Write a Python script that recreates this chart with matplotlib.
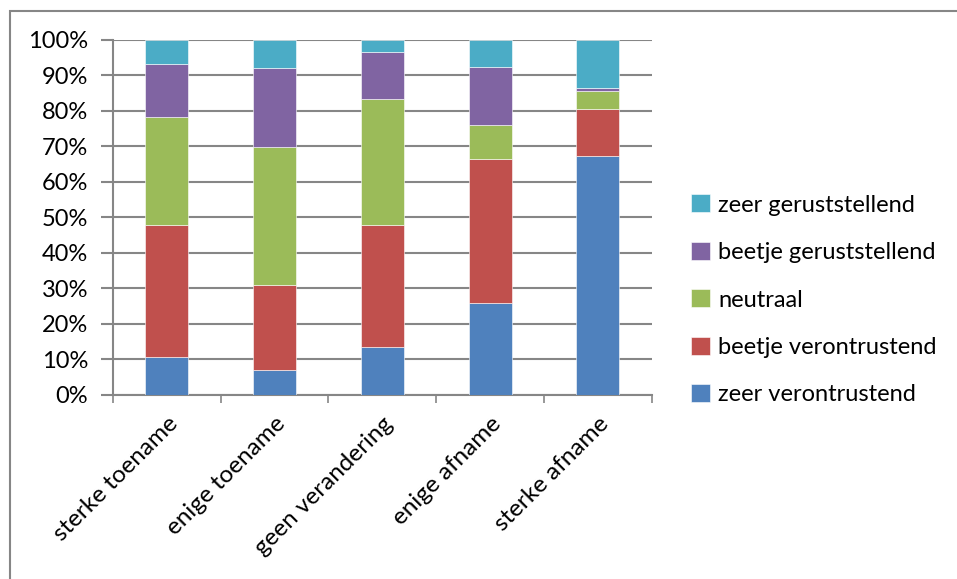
import numpy as np
import matplotlib.pyplot as plt
from matplotlib.patches import Rectangle
from matplotlib.ticker import PercentFormatter

plt.rcParams['font.family'] = ['Lato', 'DejaVu Sans']

# Categorieën en aandelen per antwoord (in %)
categorieen = ['sterke toename', 'enige toename', 'geen verandering', 'enige afname', 'sterke afname']
zeer_verontrustend = [10.8, 6.9, 13.6, 26.0, 67.4]
beetje_verontrustend = [37.1, 24.0, 34.4, 40.4, 13.2]
neutraal = [30.3, 38.9, 35.4, 9.6, 4.9]
beetje_geruststellend = [15.1, 22.4, 13.3, 16.5, 1.1]
zeer_geruststellend = [6.7, 7.8, 3.3, 7.5, 13.4]

reeksen = [
    ('zeer verontrustend', zeer_verontrustend, '#4F81BD'),
    ('beetje verontrustend', beetje_verontrustend, '#C0504D'),
    ('neutraal', neutraal, '#9BBB59'),
    ('beetje geruststellend', beetje_geruststellend, '#8064A2'),
    ('zeer geruststellend', zeer_geruststellend, '#4BACC6'),
]

fig = plt.figure(figsize=(9.57, 5.79), dpi=100)
ax = fig.add_axes([0.118, 0.318, 0.563, 0.613])

x = np.arange(len(categorieen))
onder = np.zeros(len(categorieen))
for naam, waarden, kleur in reeksen:
    waarden = np.array(waarden)
    ax.bar(x, waarden, bottom=onder, width=0.4, color=kleur, label=naam,
           edgecolor='white', linewidth=0.4, zorder=3)
    onder += waarden

grijs = '#868686'
ax.set_xlim(-0.5, len(categorieen) - 0.5)
ax.set_ylim(0, 100)
ax.set_yticks(np.arange(0, 101, 10))
ax.yaxis.set_major_formatter(PercentFormatter(decimals=0))
ax.grid(axis='y', color=grijs, linewidth=1.5, zorder=0)

ax.set_xticks(np.arange(len(categorieen) + 1) - 0.5, minor=False)
ax.set_xticklabels([])
ax.set_xticks(x, minor=True)
ax.set_xticklabels(categorieen, minor=True, rotation=45, ha='right',
                   rotation_mode='anchor', fontsize=17.5)
ax.tick_params(axis='x', which='minor', length=0, pad=13)
ax.tick_params(axis='x', which='major', length=6, color=grijs, width=1.2)
ax.tick_params(axis='y', length=9, color=grijs, width=1.5, labelsize=17, pad=9)

for kant in ['top', 'right']:
    ax.spines[kant].set_visible(False)
for kant in ['left', 'bottom']:
    ax.spines[kant].set_color(grijs)
    ax.spines[kant].set_linewidth(1.5)

handles, labels = ax.get_legend_handles_labels()
fig.legend(handles[::-1], labels[::-1], loc='center left',
           bbox_to_anchor=(0.7, 0.482), frameon=False, fontsize=17,
           handlelength=0.8, handleheight=0.8, handletextpad=0.35,
           labelspacing=1.11)

# kader rond de grafiek
fig.patches.append(Rectangle((10 / 957, -0.05), 1.2, 0.05 + (579 - 11) / 579,
                             transform=fig.transFigure, fill=False,
                             edgecolor=grijs, linewidth=1.5))

fig.savefig('out.png', dpi=100)
